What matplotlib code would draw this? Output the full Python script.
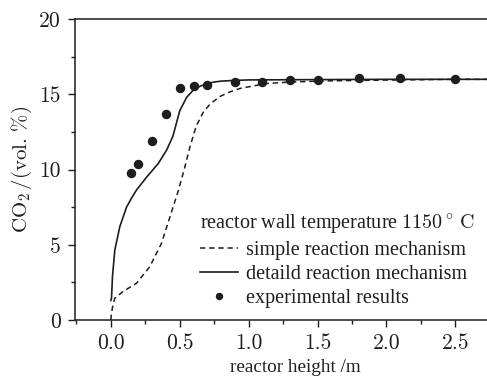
import matplotlib
matplotlib.use("Agg")
import matplotlib.pyplot as plt
from matplotlib.ticker import MultipleLocator

# experimental results
exp_x = [0.15, 0.20, 0.30, 0.40, 0.50, 0.60, 0.70, 0.90, 1.10, 1.30, 1.50, 1.80, 2.10, 2.50]
exp_y = [9.8, 10.4, 11.9, 13.7, 15.45, 15.55, 15.6, 15.8, 15.85, 15.95, 15.95, 16.1, 16.1, 16.0]

# detailed reaction mechanism (solid)
det_x = [0.0, 0.005, 0.012, 0.029, 0.065, 0.114, 0.15, 0.187, 0.26, 0.344, 0.405,
         0.45, 0.50, 0.55, 0.60, 0.65, 0.70, 0.75, 0.80, 0.90, 1.0, 1.5, 2.0, 2.5, 2.75]
det_y = [1.3, 1.45, 2.9, 4.65, 6.2, 7.5, 8.1, 8.65, 9.5, 10.4, 11.3,
         12.2, 13.9, 14.8, 15.3, 15.55, 15.72, 15.82, 15.88, 15.93, 15.96, 15.98, 16.0, 16.0, 16.0]

# simple reaction mechanism (dashed)
sim_x = [0.0, 0.005, 0.015, 0.029, 0.09, 0.187, 0.283, 0.368, 0.429, 0.49, 0.538,
         0.574, 0.62, 0.67, 0.72, 0.79, 0.86, 0.94, 1.13, 1.3, 1.6, 2.0, 2.5, 2.75]
sim_y = [0.0, 0.45, 1.0, 1.45, 1.9, 2.45, 3.55, 5.1, 6.85, 8.6, 10.2,
         11.5, 12.9, 13.8, 14.35, 14.85, 15.15, 15.4, 15.72, 15.82, 15.9, 15.95, 16.0, 16.0]

plt.rcParams["font.family"] = "cmr10"
plt.rcParams["mathtext.fontset"] = "cm"
plt.rcParams["axes.unicode_minus"] = False

fig = plt.figure(figsize=(4.87, 3.83), dpi=100)
ax = fig.add_axes([0.154, 0.1645, 0.846, 0.7855])

ink = "#1e1e1e"
ax.plot(sim_x, sim_y, color=ink, lw=1.1, ls=(0, (3.5, 2.5)), label="simple reaction mechanism")
ax.plot(det_x, det_y, color=ink, lw=1.2, label="detaild reaction mechanism")
ax.plot(exp_x, exp_y, "o", color=ink, ms=5.8, label="experimental results")

ax.set_xlim(-0.26, 2.73)
ax.set_ylim(0, 20)
ax.xaxis.set_major_locator(MultipleLocator(0.5))
ax.xaxis.set_minor_locator(MultipleLocator(0.25))
ax.yaxis.set_major_locator(MultipleLocator(5))
ax.yaxis.set_minor_locator(MultipleLocator(2.5))
ax.xaxis.set_major_formatter(plt.FormatStrFormatter("%.1f"))
ax.tick_params(which="major", length=5, width=1, colors=ink, labelsize=15.5, pad=5)
ax.tick_params(which="minor", length=3, width=1, colors=ink)
ax.spines["right"].set_visible(False)
for s in ["left", "top", "bottom"]:
    ax.spines[s].set_color(ink)
    ax.spines[s].set_linewidth(1.1)

ax.set_xlabel("reactor height /m", fontsize=13.8, family="Liberation Serif", color=ink)
ax.xaxis.set_label_coords(0.534, -0.13)
ax.set_ylabel(r"$\mathrm{CO}_2\,/(\mathrm{vol.\,\%})$", fontsize=15, color=ink)
ax.yaxis.set_label_coords(-0.10, 0.5)

leg = ax.legend(title=r"reactor wall temperature $1150^\circ\,\mathrm{C}$",
                loc="lower left", bbox_to_anchor=(0.275, 0.0), frameon=False,
                prop={"family": "Liberation Serif", "size": 14.5},
                title_fontproperties={"family": "Liberation Serif", "size": 14.5},
                handlelength=1.85, handletextpad=0.4, labelspacing=0.25,
                alignment="left", borderpad=0.1, markerscale=0.75)
for t in leg.get_texts():
    t.set_color(ink)
leg.get_title().set_color(ink)

fig.savefig("out.png", dpi=100)
